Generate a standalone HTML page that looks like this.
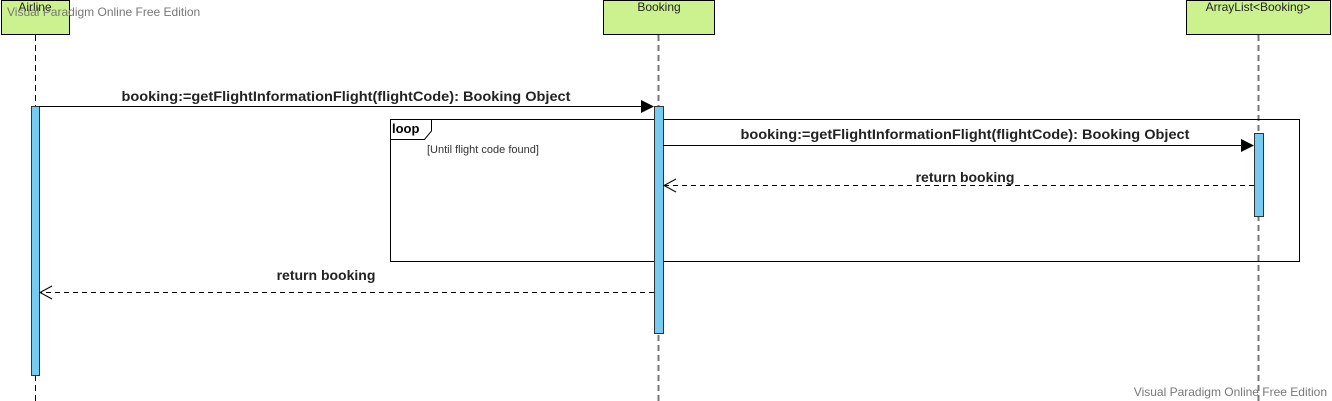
<!DOCTYPE html>
<html><head><meta charset="utf-8"><style>
html,body{margin:0;padding:0;background:#fff;}
svg{display:block;font-family:"Liberation Sans",sans-serif;}
</style></head><body>
<svg width="1332" height="401" viewBox="0 0 1332 401" xmlns="http://www.w3.org/2000/svg">
<line x1="35.5" y1="35" x2="35.5" y2="401" stroke="#000" stroke-dasharray="6,4"/>
<line x1="658.5" y1="35" x2="658.5" y2="401" stroke="#777" stroke-width="2" stroke-dasharray="6,4"/>
<line x1="1258.5" y1="35" x2="1258.5" y2="401" stroke="#777" stroke-width="2" stroke-dasharray="6,4"/>
<rect x="1.5" y="0.5" width="68" height="34" fill="#ccf28f" stroke="#000"/>
<text x="35" y="11" font-size="12" text-anchor="middle" fill="#222">Airline</text>
<rect x="603.5" y="0.5" width="111" height="34" fill="#ccf28f" stroke="#000"/>
<text x="659" y="11" font-size="12" text-anchor="middle" fill="#222">Booking</text>
<rect x="1186.5" y="0.5" width="144" height="34" fill="#ccf28f" stroke="#000"/>
<text x="1258" y="11" font-size="12" text-anchor="middle" fill="#222">ArrayList&lt;Booking&gt;</text>
<rect x="390.5" y="119.5" width="909" height="142" fill="none" stroke="#000"/>
<path d="M390.5 139.5 H424.5 L431.5 131 V119.5" fill="none" stroke="#000"/>
<text x="392" y="133" font-size="13" font-weight="bold">loop</text>
<text x="427" y="153" font-size="11" fill="#333">[Until flight code found]</text>
<rect x="31.5" y="106.5" width="8" height="269" fill="#76cbf2" stroke="#333"/>
<rect x="654.5" y="106.5" width="9" height="227" fill="#76cbf2" stroke="#333"/>
<rect x="1254.5" y="133.5" width="9" height="83" fill="#76cbf2" stroke="#333"/>
<line x1="39" y1="106.5" x2="643" y2="106.5" stroke="#000"/>
<polygon points="641,100 654,106.5 641,113" fill="#000"/>
<text x="346" y="101" font-size="14" font-weight="bold" text-anchor="middle" textLength="449" lengthAdjust="spacingAndGlyphs" fill="#222">booking:=getFlightInformationFlight(flightCode): Booking Object</text>
<line x1="663" y1="145.5" x2="1243" y2="145.5" stroke="#000"/>
<polygon points="1241,139 1254,145.5 1241,152" fill="#000"/>
<text x="965" y="139" font-size="14" font-weight="bold" text-anchor="middle" textLength="449" lengthAdjust="spacingAndGlyphs" fill="#222">booking:=getFlightInformationFlight(flightCode): Booking Object</text>
<line x1="1254" y1="185.5" x2="664" y2="185.5" stroke="#000" stroke-dasharray="5,4"/>
<polyline points="676,179 664,185.5 676,192" fill="none" stroke="#000"/>
<text x="965" y="182" font-size="14" font-weight="bold" text-anchor="middle" fill="#222">return booking</text>
<line x1="654" y1="292.5" x2="40" y2="292.5" stroke="#000" stroke-dasharray="5,4"/>
<polyline points="52,286 40,292.5 52,299" fill="none" stroke="#000"/>
<text x="326" y="280" font-size="14" font-weight="bold" text-anchor="middle" fill="#222">return booking</text>
<text x="7" y="16" font-size="12" fill="#777">Visual Paradigm Online Free Edition</text>
<text x="1327" y="396" font-size="12" fill="#777" text-anchor="end">Visual Paradigm Online Free Edition</text>
</svg>
</body></html>
